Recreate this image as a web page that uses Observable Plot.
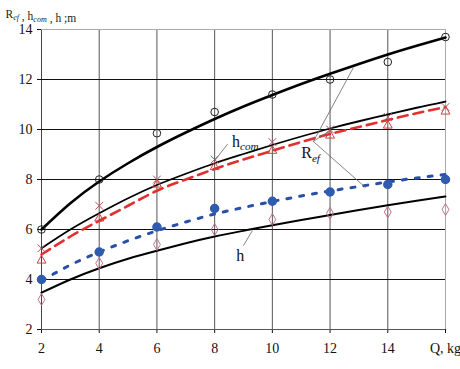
<!DOCTYPE html>
<html><head><meta charset="utf-8">
<script src="https://cdn.jsdelivr.net/npm/d3@7"></script>
<script src="https://cdn.jsdelivr.net/npm/@observablehq/plot@0.6"></script>
<style>body{margin:0;background:#fff}</style>
</head><body><div id="chart"></div>
<script>
const qPts = [2,4,6,8,10,12,14,16];
const circles = [6.0, 8.0, 9.85, 10.7, 11.4, 12.0, 12.7, 13.7];
const crosses = [5.25, 6.95, 8.0, 8.8, 9.5, 10.0, 10.5, 10.9];
const triangles = [4.76, 6.44, 7.8, 8.5, 9.15, 9.76, 10.16, 10.72];
const blueDots = [4.0, 5.1, 6.1, 6.84, 7.13, 7.5, 7.8, 8.0];
const diamonds = [3.2, 4.65, 5.4, 6.0, 6.4, 6.65, 6.7, 6.8];

const qFit = [2,3,4,5,6,7,8,9,10,11,12,13,14,15,16];
const fitTop  = [6.0, 7.05, 7.92, 8.65, 9.3, 9.88, 10.42, 10.92, 11.38, 11.82, 12.23, 12.62, 13.0, 13.35, 13.68];
const fitHcom = [5.25, 6.0, 6.65, 7.25, 7.78, 8.23, 8.65, 9.02, 9.38, 9.72, 10.04, 10.33, 10.6, 10.87, 11.12];
const fitRef  = [5.0, 5.72, 6.35, 6.95, 7.55, 8.0, 8.42, 8.8, 9.15, 9.5, 9.82, 10.1, 10.38, 10.65, 10.9];
const fitBlue = [3.95, 4.58, 5.1, 5.55, 5.95, 6.3, 6.62, 6.88, 7.12, 7.34, 7.54, 7.72, 7.9, 8.06, 8.2];
const fitH    = [3.47, 4.0, 4.45, 4.83, 5.15, 5.45, 5.72, 5.95, 6.17, 6.38, 6.58, 6.78, 6.97, 7.15, 7.32];

const xTicks = [2,4,6,8,10,12,14,16];
const yTicks = [2,4,6,8,10,12,14];

const pts = a => qPts.map((q,i)=>({q, v:a[i]}));
const fit = a => qFit.map((q,i)=>({q, v:a[i]}));

const labels = [
  {q: 8.6, v: 9.5, t: "h_com"},
  {q: 11.0, v: 9.05, t: "R_ef"},
  {q: 8.75, v: 4.95, t: "h"}
];
const leaders = [
  {q1: 8.45, v1: 9.42, q2: 8.0, v2: 8.75},
  {q1: 11.42, v1: 9.52, q2: 12.81, v2: 12.48},
  {q1: 11.42, v1: 9.52, q2: 11.94, v2: 9.92},
  {q1: 11.42, v1: 9.52, q2: 13.23, v2: 7.68},
  {q1: 9.0, v1: 5.36, q2: 9.31, v2: 5.96}
];

const SERIF = "'Liberation Serif', 'DejaVu Serif', serif";

const plot = Plot.plot({
  width: 460, height: 369,
  marginLeft: 41, marginRight: 15, marginTop: 29, marginBottom: 40,
  style: {fontFamily: SERIF, fontSize: "14px", color: "#111"},
  x: {domain: [2,16], ticks: xTicks, label: null, tickSize: 4, tickPadding: 10,
      tickFormat: d => d === 16 ? "Q, kg" : d},
  y: {domain: [2,14], ticks: yTicks, label: null, tickSize: 4, tickPadding: 5},
  marks: [
    Plot.ruleX(xTicks.filter(d=>d>2 && d<16), {stroke: "#555", strokeWidth: 1}),
    Plot.ruleX([16], {stroke: "#aaa", strokeWidth: 1}),
    Plot.ruleX([2], {stroke: "#444", strokeWidth: 1}),
    Plot.ruleY(yTicks.filter(d=>d>2 && d<14), {stroke: "#111", strokeWidth: 1.2}),
    Plot.ruleY([14], {stroke: "#aaa", strokeWidth: 1}),
    Plot.ruleY([2], {stroke: "#555", strokeWidth: 1}),
    Plot.line(fit(fitTop), {x:"q", y:"v", stroke:"#000", strokeWidth: 2.6, curve:"natural"}),
    Plot.line(fit(fitHcom), {x:"q", y:"v", stroke:"#000", strokeWidth: 1.8, curve:"natural"}),
    Plot.line(fit(fitRef), {x:"q", y:"v", stroke:"#e03030", strokeWidth: 2.6, strokeDasharray: "10,6", curve:"natural"}),
    Plot.line(fit(fitBlue), {x:"q", y:"v", stroke:"#2a4fa8", strokeWidth: 3, strokeDasharray: "4,9", curve:"natural"}),
    Plot.line(fit(fitH), {x:"q", y:"v", stroke:"#000", strokeWidth: 2, curve:"natural"}),
    Plot.dot(pts(circles), {x:"q", y:"v", r: 3.8, stroke:"#222", strokeWidth: 1, fill:"none"}),
    Plot.dot(pts(crosses), {x:"q", y:"v", r: 3.6, symbol:"times", stroke:"#b05060", strokeWidth: 1}),
    Plot.dot(pts(triangles), {x:"q", y:"v", r: 3.3, symbol:"triangle", stroke:"#d04040", strokeWidth: 1, fill:"none"}),
    Plot.dot(pts(blueDots), {x:"q", y:"v", r: 4, fill:"#2f5cb0", stroke:"#2f5cb0"}),
    Plot.dot(pts(diamonds), {x:"q", y:"v", r: 3.6, symbol:"diamond", stroke:"#c07090", strokeWidth: 1, fill:"none"}),
    Plot.link(leaders, {x1:"q1", y1:"v1", x2:"q2", y2:"v2", stroke:"#666", strokeWidth: 0.8}),
    Plot.text(labels, {x:"q", y:"v", text:"t", fontSize: 16, fill:"#111", textAnchor:"start", className:"sublabel"}),
    Plot.text(["R_ef , h_com , h ;m"], {frameAnchor:"top-left", dx:-36, dy:-20, fontSize: 11.5, fill:"#222", textAnchor:"start", className:"sublabel"})
  ]
});
document.getElementById("chart").appendChild(plot);

// serif everywhere
d3.select(plot).selectAll("text").attr("font-family", SERIF).style("font-family", SERIF);

// render "_xx" parts as subscripts
d3.select(plot).selectAll("g.sublabel text").each(function(){
  const el = d3.select(this);
  const s = el.text();
  el.text(null);
  const parts = s.split(/(_[a-z]+)/);
  parts.forEach(p => {
    if (!p) return;
    if (p[0] === "_") {
      el.append("tspan").attr("font-style","italic").attr("font-size","0.7em").attr("dy","0.3em").text(p.slice(1));
      el.append("tspan").attr("dy","-0.3em").text("");
    } else {
      el.append("tspan").text(p);
    }
  });
});
</script></body></html>
